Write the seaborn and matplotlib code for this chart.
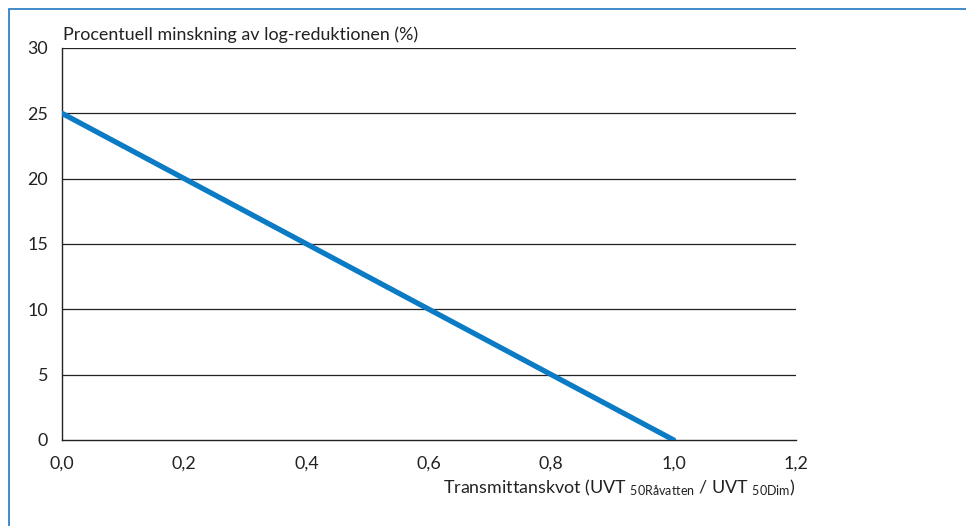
import matplotlib
matplotlib.use('Agg')
import matplotlib.pyplot as plt
import pandas as pd
import seaborn as sns
from matplotlib.patches import Rectangle

#%% data
kvot = [0.0, 1.0]
minskning = [25.0, 0.0]
xticks = [0.0, 0.2, 0.4, 0.6, 0.8, 1.0, 1.2]
yticks = [0, 5, 10, 15, 20, 25, 30]

df = pd.DataFrame({'kvot': kvot, 'minskning': minskning})

#%% graph
sns.set_style("white")
plt.rcParams['font.family'] = ['Lato', 'DejaVu Sans']
plt.rcParams['mathtext.fontset'] = 'custom'
plt.rcParams['mathtext.rm'] = 'Lato'
plt.rcParams['mathtext.it'] = 'Lato'

fs = 12.9
fig = plt.figure(figsize=(9.66, 5.26), dpi=100)
ax = fig.add_axes([62/966, 1 - 440/526, (796-62)/966, (440-48)/526])

# blue frame around the figure
fig.patches.append(Rectangle((9/966, -0.05), 1.1, (526-9)/526 + 0.05,
                             transform=fig.transFigure, fill=False,
                             edgecolor='#1f78c1', linewidth=1.2))

for y in yticks[1:]:
    ax.axhline(y, color='#222222', linewidth=0.9, zorder=1)

sns.lineplot(data=df, x='kvot', y='minskning', ax=ax, color='#0b7bc5',
             linewidth=3.8, solid_capstyle='round', zorder=3)

ax.set_xlim(0, 1.2)
ax.set_ylim(0, 30)
ax.set_xticks(xticks)
ax.set_xticklabels([f'{t:.1f}'.replace('.', ',') for t in xticks])
ax.set_yticks(yticks)
ax.tick_params(axis='both', length=0, labelsize=fs, colors='#222222')
ax.tick_params(axis='x', pad=11)
ax.tick_params(axis='y', pad=10)

for s in ['top', 'right']:
    ax.spines[s].set_visible(False)
for s in ['left', 'bottom']:
    ax.spines[s].set_color('#222222')
    ax.spines[s].set_linewidth(1.0)

ax.set_xlabel('')
ax.set_ylabel('')
ax.text(0.002, 1.012, 'Procentuell minskning av log-reduktionen (%)',
        transform=ax.transAxes, ha='left', va='bottom', fontsize=fs,
        color='#222222')
ax.text(1.0, -0.095,
        r'Transmittanskvot (UVT $_{\mathregular{50Råvatten}}$ / UVT $_{\mathregular{50Dim}}$)',
        transform=ax.transAxes, ha='right', va='top', fontsize=fs,
        color='#222222')

plt.savefig('out.png', dpi=100)
